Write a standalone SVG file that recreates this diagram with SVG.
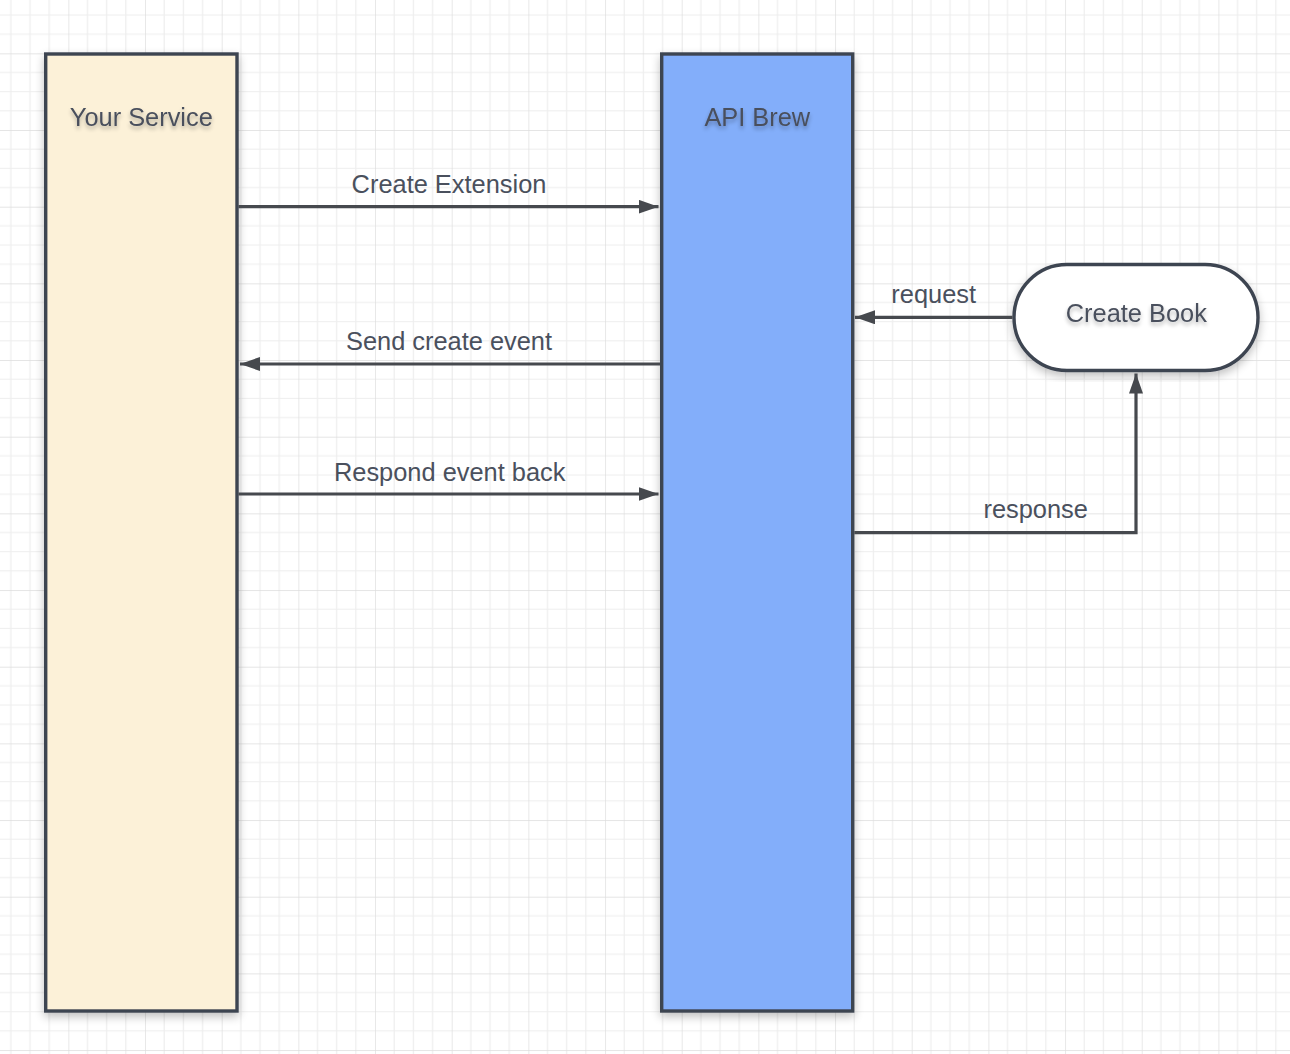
<svg xmlns="http://www.w3.org/2000/svg" width="1290" height="1054" viewBox="0 0 1290 1054">
<style>
.lbl{font-family:"Liberation Sans",Arial,sans-serif;font-size:25.4px;fill:#4a505d;text-anchor:middle}
.node{stroke:#3e4451;stroke-width:3.4}
.conn{fill:none;stroke:#46494e;stroke-width:3.2}
</style>
<defs>
<pattern id="grid" patternUnits="userSpaceOnUse" x="-8.33" y="-23.33" width="76.67" height="76.67">
<rect width="76.67" height="76.67" fill="#ffffff"/>
<path d="M19.17 0V76.67M38.33 0V76.67M57.5 0V76.67M0 19.17H76.67M0 38.33H76.67M0 57.5H76.67" stroke="#eeeeee" stroke-width="1.2"/>
<path d="M0 0V76.67M0 0H76.67" stroke="#dddddd" stroke-width="1.3"/>
</pattern>
<filter id="shadow" x="-20%" y="-5%" width="140%" height="115%">
<feGaussianBlur in="SourceAlpha" stdDeviation="5"/>
<feOffset dx="0" dy="4" result="b"/>
<feComponentTransfer><feFuncA type="linear" slope="0.25"/></feComponentTransfer>
<feMerge><feMergeNode/><feMergeNode in="SourceGraphic"/></feMerge>
</filter>
<filter id="tshadow" x="-10%" y="-30%" width="120%" height="180%">
<feGaussianBlur in="SourceAlpha" stdDeviation="2"/>
<feOffset dx="0" dy="3"/>
<feComponentTransfer><feFuncA type="linear" slope="0.3"/></feComponentTransfer>
<feMerge><feMergeNode/><feMergeNode in="SourceGraphic"/></feMerge>
</filter>
<marker id="arr" viewBox="0 0 20 14" refX="20" refY="7" markerWidth="20" markerHeight="14" markerUnits="userSpaceOnUse" orient="auto">
<path d="M0 0L20 7L0 14Z" fill="#46494e"/>
</marker>
</defs>
<rect width="1290" height="1054" fill="url(#grid)"/>

<g id="node-your-service">
<rect class="node" x="45.7" y="54" width="191.3" height="957" fill="#fcf1d8" filter="url(#shadow)"/>
<text class="lbl" x="141.3" y="126" filter="url(#tshadow)">Your Service</text>
</g>

<g id="node-api-brew">
<rect class="node" x="661.7" y="54" width="191" height="957" fill="#83aefa" filter="url(#shadow)"/>
<text class="lbl" x="757.3" y="126" filter="url(#tshadow)">API Brew</text>
</g>

<g id="node-create-book">
<rect class="node" x="1014" y="264.5" width="244" height="106" rx="53" ry="53" fill="#ffffff" filter="url(#shadow)"/>
<text class="lbl" x="1136.3" y="322.3" filter="url(#tshadow)">Create Book</text>
</g>

<g id="connectors">
<path class="conn" d="M238.5 206.7H658.5" marker-end="url(#arr)"/>
<text class="lbl" x="449" y="193.3">Create Extension</text>
<path class="conn" d="M660 364H240" marker-end="url(#arr)"/>
<text class="lbl" x="449" y="350">Send create event</text>
<path class="conn" d="M238.5 494H658.5" marker-end="url(#arr)"/>
<text class="lbl" x="449.7" y="480.7">Respond event back</text>
<path class="conn" d="M1012.5 317.3H855" marker-end="url(#arr)"/>
<text class="lbl" x="933.7" y="303.3">request</text>
<path class="conn" d="M854.3 532.7H1136V373.5" marker-end="url(#arr)"/>
<text class="lbl" x="1035.7" y="518.3">response</text>
</g>
</svg>
